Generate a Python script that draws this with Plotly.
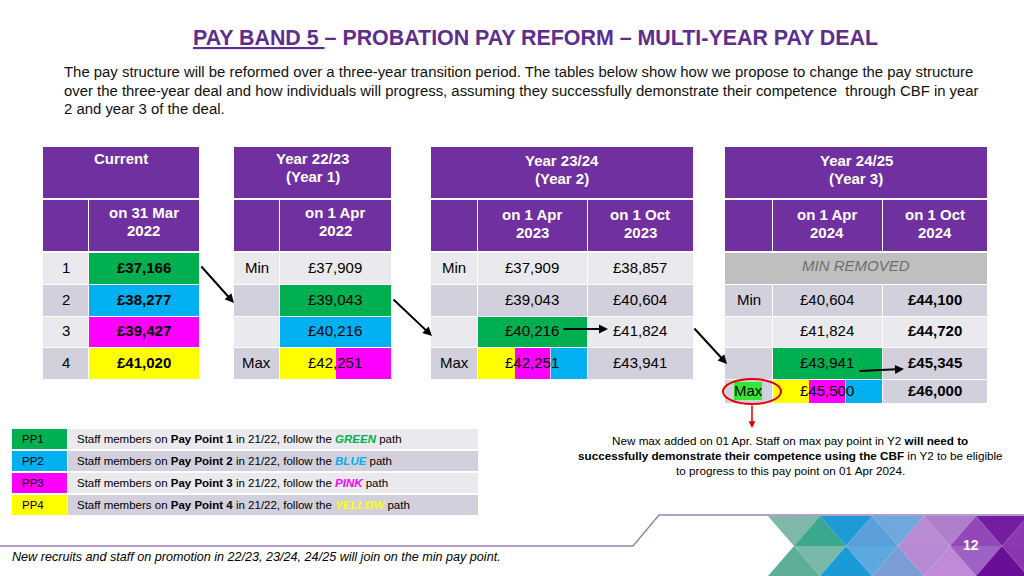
import plotly.graph_objects as go

# ---- data -------------------------------------------------------------
title_text = "<u>PAY BAND 5 </u>– PROBATION PAY REFORM – MULTI-YEAR PAY DEAL"
intro_lines = [
    "The pay structure will be reformed over a three-year transition period. The tables below show how we propose to change the pay structure",
    "over the three-year deal and how individuals will progress, assuming they successfully demonstrate their competence  through CBF in year",
    "2 and year 3 of the deal.",
]

current_points = ["1", "2", "3", "4"]
current_pay = ["£37,166", "£38,277", "£39,427", "£41,020"]

y1_labels = ["Min", "", "", "Max"]
y1_apr22 = ["£37,909", "£39,043", "£40,216", "£42,251"]

y2_labels = ["Min", "", "", "Max"]
y2_apr23 = ["£37,909", "£39,043", "£40,216", "£42,251"]
y2_oct23 = ["£38,857", "£40,604", "£41,824", "£43,941"]

y3_labels = ["Min", "", "", "Max"]
y3_apr24 = ["£40,604", "£41,824", "£43,941", "£45,500"]
y3_oct24 = ["£44,100", "£44,720", "£45,345", "£46,000"]

legend_codes = ["PP1", "PP2", "PP3", "PP4"]
legend_points = ["1", "2", "3", "4"]
legend_paths = ["GREEN", "BLUE", "PINK", "YELLOW"]

note_lines = [
    "New max added on 01 Apr. Staff on max pay point in Y2 <b>will need to</b>",
    "<b>successfully demonstrate their competence using the CBF</b> in Y2 to be eligible",
    "to progress to this pay point on 01 Apr 2024.",
]
footer_text = "New recruits and staff on promotion in 22/23, 23/24, 24/25 will join on the min pay point."
page_no = "12"

# ---- styles -----------------------------------------------------------
PURPLE = "#7030A0"
LIGHT = "#EAE9EE"
DARK = "#D2D0DC"
GREY = "#BFBFBF"
COL = {"GREEN": "#00B050", "BLUE": "#00B0F0", "PINK": "#FF00FF", "YELLOW": "#FFFF00"}
FONT = "Liberation Sans, Arial, sans-serif"
TS = 15  # table text size

shapes = []
annotations = []


def rect(x0, y0, x1, y1, color):
    shapes.append(dict(type="rect", x0=x0, y0=y0, x1=x1, y1=y1, xref="x", yref="y",
                       fillcolor=color, line=dict(width=0), layer="below"))


def text(x, y, s, size=TS, color="black", xanchor="center", yanchor="middle"):
    annotations.append(dict(x=x, y=y, text=s, showarrow=False, xref="x", yref="y",
                            xanchor=xanchor, yanchor=yanchor,
                            font=dict(size=size, color=color, family=FONT)))


def lines(x, y, step, items, **kw):
    for k, s in enumerate(items):
        text(x, y + k * step, s, **kw)


def arrow(x0, y0, x1, y1, color="black", width=2):
    annotations.append(dict(x=x1, y=y1, ax=x0, ay=y0, xref="x", yref="y", axref="x", ayref="y",
                            text="", showarrow=True, arrowhead=2, arrowsize=0.9,
                            arrowwidth=width, arrowcolor=color))


ROWS = [252, 284, 316, 347, 379]


def table(cols, head, subs, bands, y_rows=ROWS, head_y=159):
    rect(cols[0], 147, cols[-1], 198, PURPLE)
    lines((cols[0] + cols[-1]) / 2, head_y, 18.5, ["<b>" + h + "</b>" for h in head], color="white")
    for i in range(len(cols) - 1):
        rect(cols[i] + (1 if i else 0), 200, cols[i + 1], 251, PURPLE)
        if subs[i]:
            lines((cols[i] + cols[i + 1]) / 2, head_y + 54, 18, ["<b>" + s + "</b>" for s in subs[i]], color="white")
    for r, band in enumerate(bands):
        for i in range(len(cols) - 1):
            rect(cols[i] + (1 if i else 0), y_rows[r] + 1, cols[i + 1], y_rows[r + 1], band)


def mid(a, b):
    return (a + b) / 2


bands = [LIGHT, DARK, LIGHT, DARK]

# Current
c1 = [43, 88, 199]
table(c1, ["Current"], [None, ["on 31 Mar", "2022"]], bands, head_y=158)
for r, p in enumerate(legend_paths):
    rect(c1[1] + 1, ROWS[r] + 1, c1[2], ROWS[r + 1], COL[p])
for r in range(4):
    text(mid(c1[0], c1[1]), mid(ROWS[r], ROWS[r + 1]) - 1, current_points[r])
    text(mid(c1[1], c1[2]), mid(ROWS[r], ROWS[r + 1]) - 1, "<b>" + current_pay[r] + "</b>")

# Year 1
c2 = [234, 279, 391]
table(c2, ["Year 22/23", "(Year 1)"], [None, ["on 1 Apr", "2022"]], bands, head_y=158)
rect(c2[1] + 1, ROWS[1] + 1, c2[2], ROWS[2], COL["GREEN"])
rect(c2[1] + 1, ROWS[2] + 1, c2[2], ROWS[3], COL["BLUE"])
rect(c2[1] + 1, ROWS[3] + 1, 336, ROWS[4], COL["YELLOW"])
rect(336, ROWS[3] + 1, c2[2], ROWS[4], COL["PINK"])
for r in range(4):
    for i, val in enumerate([y1_labels[r], y1_apr22[r]]):
        if val:
            text(mid(c2[i], c2[i + 1]), mid(ROWS[r], ROWS[r + 1]) - 1, val)

# Year 2
c3 = [431, 477, 587, 693]
table(c3, ["Year 23/24", "(Year 2)"], [None, ["on 1 Apr", "2023"], ["on 1 Oct", "2023"]], bands, head_y=160)
rect(c3[1] + 1, ROWS[2] + 1, c3[2], ROWS[3], COL["GREEN"])
rect(c3[1] + 1, ROWS[3] + 1, 515, ROWS[4], COL["YELLOW"])
rect(515, ROWS[3] + 1, 550, ROWS[4], COL["PINK"])
rect(551, ROWS[3] + 1, c3[2], ROWS[4], COL["BLUE"])
for r in range(4):
    for i, val in enumerate([y2_labels[r], y2_apr23[r], y2_oct23[r]]):
        if val:
            text(mid(c3[i], c3[i + 1]), mid(ROWS[r], ROWS[r + 1]) - 1, val)

# Year 3
c4 = [725, 772, 882, 987]
R4 = [252, 284, 316, 347, 379, 403]
table(c4, ["Year 24/25", "(Year 3)"], [None, ["on 1 Apr", "2024"], ["on 1 Oct", "2024"]],
      [GREY, DARK, LIGHT, DARK, DARK], y_rows=R4, head_y=160)
rect(c4[0], R4[0] + 1, c4[-1], R4[1], GREY)
text(mid(c4[0], c4[-1]), 265, "<i>MIN REMOVED</i>", color="#6E6E6E")
rect(c4[1] + 1, R4[3] + 1, c4[2], R4[4], COL["GREEN"])
rect(c4[1] + 1, R4[4] + 1, 809, R4[5], COL["YELLOW"])
rect(809, R4[4] + 1, 845, R4[5], COL["PINK"])
rect(846, R4[4] + 1, c4[2], R4[5], COL["BLUE"])
rect(734, 382, 762, 400, "#33E633")
for r in range(4):
    yc = mid(R4[r + 1], R4[r + 2]) - 1
    if y3_labels[r]:
        text(mid(c4[0], c4[1]), yc, y3_labels[r])
    text(mid(c4[1], c4[2]), yc, y3_apr24[r])
    text(mid(c4[2], c4[3]), yc, "<b>" + y3_oct24[r] + "</b>")
shapes.append(dict(type="circle", x0=723, y0=379, x1=781, y1=404, xref="x", yref="y",
                   line=dict(color="#E00000", width=2)))
arrow(752, 404, 752, 428, color="#E00000", width=1.5)

# progression arrows
arrow(200, 265, 234, 303)
arrow(392, 298, 432, 336)
arrow(562, 329, 608, 329)
arrow(693, 327, 727, 364)
arrow(858, 371, 904, 369)

# legend
LROWS = [429, 451, 473, 495]
for r in range(4):
    y0 = LROWS[r]
    rect(12, y0, 67, y0 + 20, COL[legend_paths[r]])
    rect(68, y0, 478, y0 + 20, [LIGHT, DARK][r % 2])
    text(20, y0 + 10, legend_codes[r], size=11.5, xanchor="left")
    text(75, y0 + 10,
         "Staff members on <b>Pay Point " + legend_points[r] + "</b> in 21/22, follow the "
         "<b><i><span style='color:" + COL[legend_paths[r]] + "'>" + legend_paths[r] + "</span></i></b> path",
         size=11.5, xanchor="left")

lines(790, 440, 15, note_lines, size=11.7)

# title and intro
text(535, 38, "<b>" + title_text + "</b>", size=21.4, color="#5E2D8E")
lines(62, 72, 18.5, intro_lines, size=14.9, color="#111111", xanchor="left")

# footer line and decoration
shapes.append(dict(type="path", path="M 0 546 L 633 546 L 659 515 L 1024 515", xref="x", yref="y",
                   line=dict(color="#9C80B8", width=1.5)))
top_cols = ["#7DB8A8", "#39A88E", "#1E9BD7", "#5A9FDA", "#6FA8DC", "#B98BD3", "#B07FCC", "#9448B8", "#741DA0", "#8C38B0"]
bot_cols = ["#5DAE96", "#7AB9AA", "#1B9BD6", "#5CA8E0", "#7C9CD5", "#B68AD3", "#C08AD8", "#9E62C4", "#6A0E9A", "#8A35AE"]
for i in range(10):
    x0 = 768 + i * 26
    if i % 2 == 0:
        tp = f"M {x0} 516 L {x0 + 52} 516 L {x0 + 26} 546 Z"
        bp = f"M {x0} 576 L {x0 + 52} 576 L {x0 + 26} 546 Z"
    else:
        tp = f"M {x0} 546 L {x0 + 52} 546 L {x0 + 26} 516 Z"
        bp = f"M {x0} 546 L {x0 + 52} 546 L {x0 + 26} 576 Z"
    shapes.append(dict(type="path", path=tp, xref="x", yref="y", fillcolor=top_cols[i], line=dict(width=0), layer="below"))
    shapes.append(dict(type="path", path=bp, xref="x", yref="y", fillcolor=bot_cols[i], line=dict(width=0), layer="below"))
text(971, 545, "<b>" + page_no + "</b>", size=14, color="white")
text(10, 557, "<i>" + footer_text + "</i>", size=12.6, xanchor="left")

fig = go.Figure()
fig.update_layout(
    width=1024, height=576,
    margin=dict(l=0, r=0, t=0, b=0),
    paper_bgcolor="white", plot_bgcolor="white",
    xaxis=dict(range=[0, 1024], visible=False, fixedrange=True),
    yaxis=dict(range=[576, 0], visible=False, fixedrange=True),
    shapes=shapes, annotations=annotations, showlegend=False,
)
fig.write_html("out.html", config={"displayModeBar": False},
               post_script="document.body.style.margin='0px';")
